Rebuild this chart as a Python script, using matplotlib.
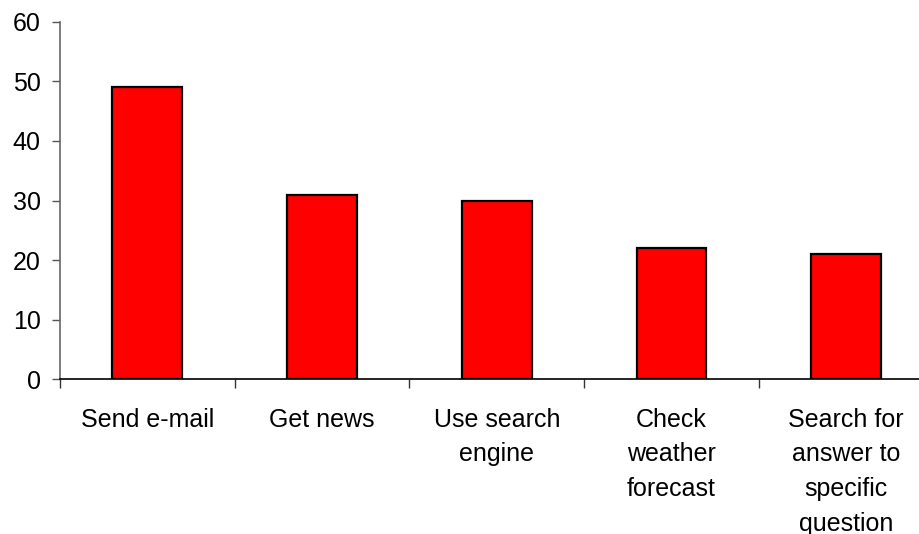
import matplotlib
matplotlib.use("Agg")
import matplotlib.pyplot as plt
import numpy as np

categories = ["Send e-mail", "Get news", "Use search\nengine",
              "Check\nweather\nforecast", "Search for\nanswer to\nspecific\nquestion"]
values = [49, 31, 30, 22, 21]
y_ticks = [0, 10, 20, 30, 40, 50, 60]

plt.rcParams["font.family"] = ["Liberation Sans", "DejaVu Sans"]

fig = plt.figure(figsize=(9.2, 5.34), dpi=100)
W, H = 920, 534
left, right = 60, 933.5
top, bottom = 21.7, 379.3
ax = fig.add_axes([left / W, 1 - bottom / H, (right - left) / W, (bottom - top) / H])

x = np.arange(len(categories))
ax.bar(x, values, width=0.4, color="#ff0000", edgecolor="black", linewidth=1.6, zorder=3)

ax.set_xlim(-0.5, len(categories) - 0.5)
ax.set_ylim(0, 60)
ax.set_yticks(y_ticks)

ax.set_xticks(x)
ax.set_xticklabels(categories, fontsize=18, linespacing=1.56, va="top")
ax.set_xticks(np.arange(-0.5, len(categories), 1.0), minor=True)
ax.tick_params(axis="x", which="major", length=0, pad=20.5)
ax.tick_params(axis="x", which="minor", length=6.5, width=1.0, color="#333333", direction="out")
ax.tick_params(axis="y", length=6, width=1.0, color="#555555", pad=8, labelsize=18, direction="out")

for s in ("top", "right"):
    ax.spines[s].set_visible(False)
ax.spines["left"].set_color("#666666")
ax.spines["left"].set_linewidth(1.2)
ax.spines["bottom"].set_color("black")
ax.spines["bottom"].set_linewidth(1.2)

fig.savefig("out.png", dpi=100)
